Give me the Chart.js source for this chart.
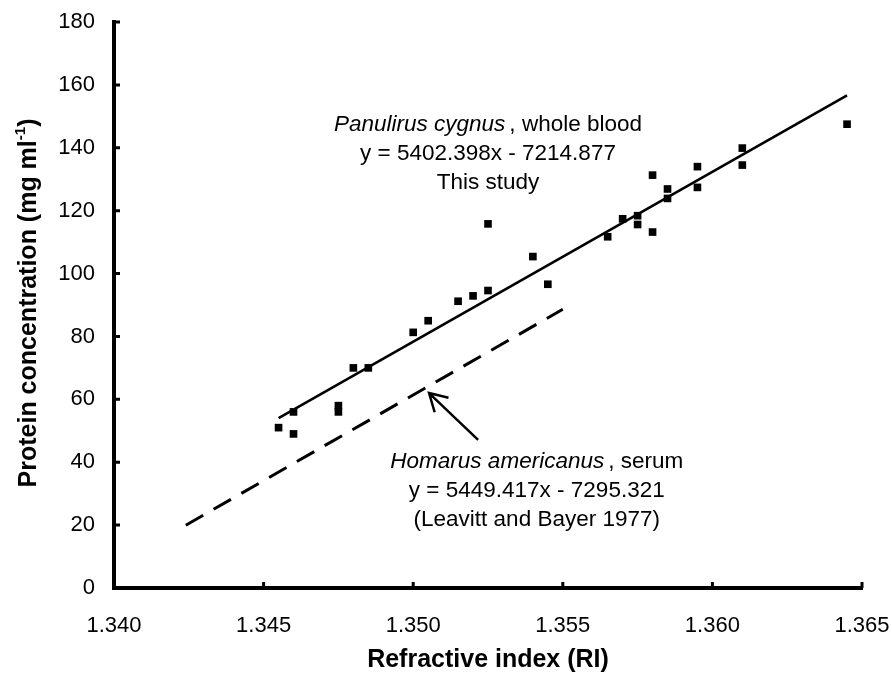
<!DOCTYPE html>
<html>
<head>
<meta charset="utf-8">
<script src="https://cdn.jsdelivr.net/npm/chart.js@4.4.1/dist/chart.umd.min.js"></script>
<style>
  html, body { margin: 0; padding: 0; background: #fff; }
  #wrap { width: 892px; height: 688px; }
</style>
</head>
<body>
<div id="wrap"><canvas id="riChart" width="892" height="688"></canvas></div>
<script>
const FONT = '"Liberation Sans", Arial, sans-serif';

// measured samples (Panulirus cygnus, whole blood)
const riValues = [1.3455, 1.346, 1.346, 1.3475, 1.3475, 1.348, 1.3485, 1.350, 1.3505, 1.3515,
  1.352, 1.3525, 1.3525, 1.354, 1.3545, 1.3565, 1.357, 1.3575, 1.3575, 1.358,
  1.358, 1.3585, 1.3585, 1.3595, 1.3595, 1.361, 1.361, 1.3645];
const proteinValues = [51, 56, 49, 58, 56, 70, 70, 81.3, 85, 91.2,
  92.9, 94.6, 115.8, 105.4, 96.6, 111.7, 117.4, 118.4, 115.6, 131.3,
  113.2, 126.9, 123.9, 134.0, 127.4, 139.9, 134.5, 147.5];

const xTickValues = [1.340, 1.345, 1.350, 1.355, 1.360, 1.365];
const yTickValues = [0, 20, 40, 60, 80, 100, 120, 140, 160, 180];

// regression lines [slope, intercept] and the RI span each one is drawn over
const cygnusFit = [5402.398, -7214.877];
const cygnusRange = [1.3455, 1.3645];
const homarusFit = [5449.417, -7295.321];
const homarusRange = [1.3424, 1.355];

function fitLine(fit, range) {
  return range.map(x => ({ x: x, y: fit[0] * x + fit[1] }));
}

const scatterData = riValues.map((x, i) => ({ x: x, y: proteinValues[i] }));

// inward tick marks on both axes
const innerTicks = {
  id: 'innerTicks',
  afterDraw(chart) {
    const { ctx, chartArea, scales } = chart;
    ctx.save();
    ctx.strokeStyle = '#000';
    ctx.lineWidth = 3;
    ctx.beginPath();
    yTickValues.forEach(v => {
      const py = scales.y.getPixelForValue(v);
      ctx.moveTo(chartArea.left, py);
      ctx.lineTo(chartArea.left + 6, py);
    });
    xTickValues.forEach(v => {
      const px = scales.x.getPixelForValue(v);
      ctx.moveTo(px, chartArea.bottom);
      ctx.lineTo(px, chartArea.bottom - 6);
    });
    ctx.stroke();
    ctx.restore();
  }
};

// italic species name followed by plain text, centred on cx
function drawMixed(ctx, italicPart, plainPart, cx, cy, size) {
  ctx.font = 'italic ' + size + 'px ' + FONT;
  const w1 = ctx.measureText(italicPart).width + 4;
  ctx.font = size + 'px ' + FONT;
  const w2 = ctx.measureText(plainPart).width;
  const start = cx - (w1 + w2) / 2;
  ctx.textAlign = 'left';
  ctx.font = 'italic ' + size + 'px ' + FONT;
  ctx.fillText(italicPart, start, cy);
  ctx.font = size + 'px ' + FONT;
  ctx.fillText(plainPart, start + w1, cy);
}

const annotations = {
  id: 'annotations',
  afterDraw(chart) {
    const { ctx, scales } = chart;
    const x = scales.x, y = scales.y;
    const size = 22.5;
    const gap = 29;
    ctx.save();
    ctx.fillStyle = '#000';
    ctx.textBaseline = 'middle';

    // upper label
    let cx = x.getPixelForValue(1.3525);
    let cy = y.getPixelForValue(138);
    drawMixed(ctx, 'Panulirus cygnus', ', whole blood', cx, cy - gap, size);
    ctx.textAlign = 'center';
    ctx.font = size + 'px ' + FONT;
    ctx.fillText('y = 5402.398x - 7214.877', cx, cy);
    ctx.fillText('This study', cx, cy + gap);

    // lower label
    cx = x.getPixelForValue(1.35413);
    cy = y.getPixelForValue(31);
    drawMixed(ctx, 'Homarus americanus', ', serum', cx, cy - gap, size);
    ctx.textAlign = 'center';
    ctx.font = size + 'px ' + FONT;
    ctx.fillText('y = 5449.417x - 7295.321', cx, cy);
    ctx.fillText('(Leavitt and Bayer 1977)', cx, cy + gap);

    // arrow pointing at the dashed line
    const tx = x.getPixelForValue(1.35053), ty = y.getPixelForValue(62);
    const sx = x.getPixelForValue(1.35217), sy = y.getPixelForValue(47.1);
    const ang = Math.atan2(sy - ty, sx - tx);
    const head = 20, spread = Math.PI / 6;
    ctx.strokeStyle = '#000';
    ctx.lineWidth = 2.5;
    ctx.lineCap = 'butt';
    ctx.beginPath();
    ctx.moveTo(sx, sy);
    ctx.lineTo(tx, ty);
    ctx.moveTo(tx + head * Math.cos(ang - spread), ty + head * Math.sin(ang - spread));
    ctx.lineTo(tx, ty);
    ctx.lineTo(tx + head * Math.cos(ang + spread), ty + head * Math.sin(ang + spread));
    ctx.stroke();

    // y axis title with superscript
    ctx.translate(29, (chart.chartArea.top + chart.chartArea.bottom) / 2 - 2);
    ctx.rotate(-Math.PI / 2);
    const main = 'Protein concentration (mg ml';
    ctx.font = 'bold 25px ' + FONT;
    const w1 = ctx.measureText(main).width;
    const w3 = ctx.measureText(')').width;
    ctx.font = 'bold 15px ' + FONT;
    const w2 = ctx.measureText('-1').width;
    const start = -(w1 + w2 + w3) / 2;
    ctx.textAlign = 'left';
    ctx.font = 'bold 25px ' + FONT;
    ctx.fillText(main, start, 0);
    ctx.fillText(')', start + w1 + w2, 0);
    ctx.font = 'bold 15px ' + FONT;
    ctx.fillText('-1', start + w1, -8);
    ctx.restore();
  }
};

new Chart(document.getElementById('riChart'), {
  type: 'scatter',
  data: {
    datasets: [
      {
        label: 'Whole blood',
        data: scatterData,
        pointStyle: 'rect',
        pointRadius: 5.4,
        pointBorderWidth: 0,
        backgroundColor: '#000',
        borderColor: '#000'
      },
      {
        type: 'line',
        label: 'P. cygnus fit',
        data: fitLine(cygnusFit, cygnusRange),
        borderColor: '#000',
        borderWidth: 2.6,
        pointRadius: 0,
        fill: false
      },
      {
        type: 'line',
        label: 'H. americanus fit',
        data: fitLine(homarusFit, homarusRange),
        borderColor: '#000',
        borderWidth: 3,
        borderDash: [20, 12],
        pointRadius: 0,
        fill: false
      }
    ]
  },
  options: {
    responsive: false,
    animation: false,
    layout: { padding: { top: 22, right: 30, left: 0, bottom: 0 } },
    plugins: {
      legend: { display: false },
      tooltip: { enabled: false }
    },
    scales: {
      x: {
        type: 'linear',
        min: 1.340,
        max: 1.365,
        afterBuildTicks: scale => { scale.ticks = xTickValues.map(v => ({ value: v })); },
        afterFit: scale => {
          scale.height = 100;
          scale.paddingLeft = 0;
          scale.paddingRight = 0;
        },
        grid: { display: false, drawTicks: false },
        border: { display: true, color: '#000', width: 4 },
        ticks: {
          color: '#000',
          padding: 25,
          font: { family: FONT, size: 22 },
          callback: v => v.toFixed(3)
        },
        title: {
          display: true,
          text: 'Refractive index (RI)',
          color: '#000',
          font: { family: FONT, size: 25, weight: 'bold', lineHeight: 1.2 },
          padding: { top: 0, bottom: 13 }
        }
      },
      y: {
        min: 0,
        max: 180,
        afterBuildTicks: scale => { scale.ticks = yTickValues.map(v => ({ value: v })); },
        afterFit: scale => {
          scale.width = 114;
          scale.paddingTop = 0;
          scale.paddingBottom = 0;
        },
        grid: { display: false, drawTicks: false },
        border: { display: true, color: '#000', width: 4 },
        ticks: {
          color: '#000',
          padding: 19,
          font: { family: FONT, size: 22 }
        }
      }
    }
  },
  plugins: [innerTicks, annotations]
});
</script>
</body>
</html>
